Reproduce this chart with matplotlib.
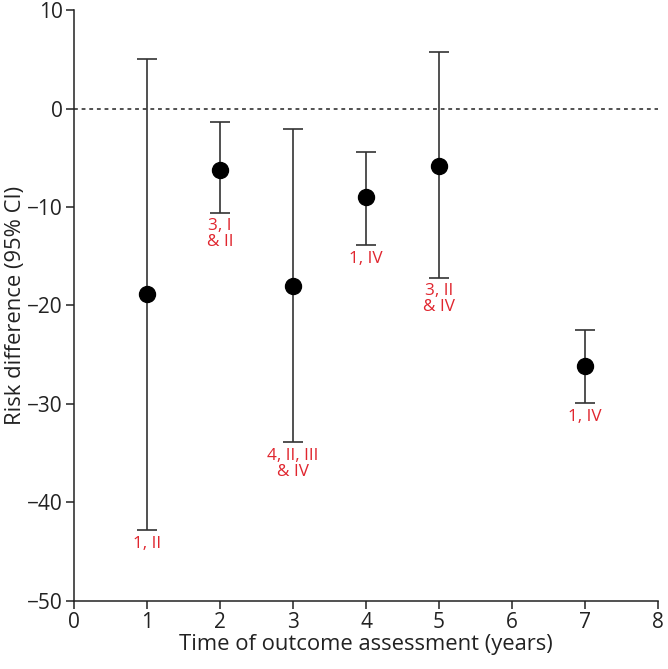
import numpy as np
import matplotlib.pyplot as plt

plt.rcParams['font.family'] = ['Open Sans', 'DejaVu Sans']

# data
years = [1, 2, 3, 4, 5, 7]
risk_diff = [-18.8, -6.2, -18.0, -9.0, -5.8, -26.1]
ci_low = [-42.8, -10.6, -33.9, -13.9, -17.2, -29.9]
ci_high = [5.0, -1.4, -2.1, -4.4, 5.7, -22.5]
notes = ['1, II', '3, I\n& II', '4, II, III\n& IV', '1, IV', '3, II\n& IV', '1, IV']

x_ticks = [0, 1, 2, 3, 4, 5, 6, 7, 8]
y_ticks = [-50, -40, -30, -20, -10, 0, 10]

rd = np.array(risk_diff)
err = [rd - np.array(ci_low), np.array(ci_high) - rd]

fig = plt.figure(figsize=(6.68, 6.69), dpi=100)
ax = fig.add_axes([0.111, 0.1017, 0.874, 0.8833])

ax.plot([0, 8], [0, 0], color='#222222', lw=1.1, ls=(0, (2.5, 2.5)), zorder=1)
ax.errorbar(years, risk_diff, yerr=err, fmt='o', color='black', ms=11.5,
            ecolor='#333333', elinewidth=1.2, capsize=7.5, capthick=1.2, zorder=3)

for x, lo, t in zip(years, ci_low, notes):
    ax.annotate(t, (x, lo), xytext=(0, -4), textcoords='offset points',
                ha='center', va='top', color='#e0262f', fontsize=12.3, linespacing=1.0)

ax.set_xlim(0, 8)
ax.set_ylim(-50, 10)
ax.set_xticks(x_ticks)
ax.set_yticks(y_ticks)
ax.set_yticklabels(['\u221250', '\u221240', '\u221230', '\u221220', '\u221210', '0', '10'])
for s in ['top', 'right']:
    ax.spines[s].set_visible(False)
for s in ['left', 'bottom']:
    ax.spines[s].set_linewidth(1.1)
    ax.spines[s].set_color('#222222')
ax.tick_params(direction='out', length=6, width=1.1, color='#222222',
               labelsize=15, labelcolor='#222222', pad=2)
ax.set_xlabel('Time of outcome assessment (years)', fontsize=15.8, color='#222222', labelpad=1)
ax.set_ylabel('Risk difference (95% CI)', fontsize=15.8, color='#222222', labelpad=1)

plt.savefig('out.png', dpi=100)
